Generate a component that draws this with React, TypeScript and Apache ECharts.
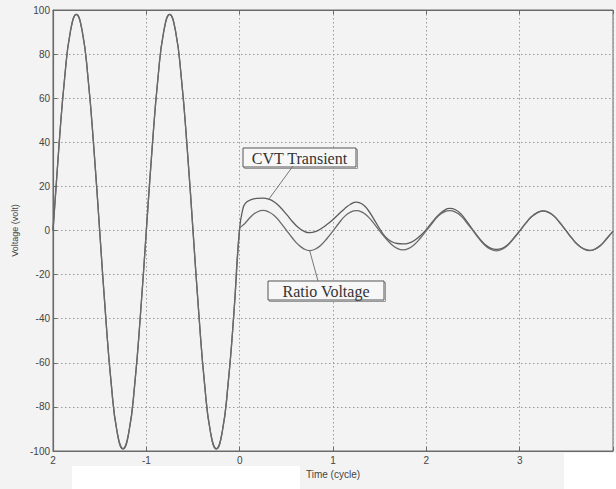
import React, { useEffect, useRef } from "react";
import * as echarts from "echarts";

// Pre-fault (both signals identical), time in cycles
const preTime = [-2, -1.9375, -1.875, -1.8125, -1.75, -1.6875, -1.625, -1.5625, -1.5, -1.4375, -1.375, -1.3125, -1.25, -1.1875, -1.125, -1.0625, -1, -0.9375, -0.875, -0.8125, -0.75, -0.6875, -0.625, -0.5625, -0.5, -0.4375, -0.375, -0.3125, -0.25, -0.1875, -0.125, -0.0625];
const preVoltage = [0, 37.5, 69.3, 90.5, 98, 90.5, 69.3, 37.5, 0, -37.9, -70, -91.5, -99, -91.5, -70, -37.9, 0, 37.5, 69.3, 90.5, 98, 90.5, 69.3, 37.5, 0, -37.9, -70, -91.5, -99, -91.5, -70, -37.9];

// Post-fault
const postTime = [0, 0.03, 0.0625, 0.125, 0.1875, 0.25, 0.3125, 0.375, 0.4375, 0.5, 0.5625, 0.625, 0.6875, 0.75, 0.8125, 0.875, 0.9375, 1, 1.0625, 1.125, 1.1875, 1.25, 1.3125, 1.375, 1.4375, 1.5, 1.5625, 1.625, 1.6875, 1.75, 1.8125, 1.875, 1.9375, 2, 2.0625, 2.125, 2.1875, 2.25, 2.3125, 2.375, 2.4375, 2.5, 2.5625, 2.625, 2.6875, 2.75, 2.8125, 2.875, 2.9375, 3, 3.0625, 3.125, 3.1875, 3.25, 3.3125, 3.375, 3.4375, 3.5, 3.5625, 3.625, 3.6875, 3.75, 3.8125, 3.875, 3.9375, 4];
const cvtTransient = [1, 9, 12.4, 14.0, 14.6, 14.7, 14.2, 12.8, 10.4, 7.4, 4.2, 1.5, -0.3, -1.0, -0.5, 0.9, 2.8, 5.0, 7.5, 9.9, 11.9, 12.9, 12.0, 9.3, 5.2, 0.8, -2.9, -5.0, -5.9, -6.1, -5.7, -4.4, -2.3, 0.5, 3.8, 6.8, 9.0, 10.0, 9.4, 7.3, 3.9, 0.2, -3.3, -6.2, -8.0, -8.6, -8.1, -6.3, -3.4, -0.2, 3.2, 6.2, 8.1, 8.9, 8.2, 6.3, 3.2, -0.2, -3.6, -6.5, -8.3, -9.0, -8.3, -6.4, -3.4, -0.3];
const ratioVoltage = [1, 2.2, 3.5, 6.5, 8.4, 9.1, 8.4, 6.6, 3.6, 0.2, -3.3, -6.3, -8.3, -9.1, -8.4, -6.5, -3.5, -0.2, 3.3, 6.4, 8.3, 9.0, 8.3, 6.3, 3.2, -0.2, -3.4, -6.2, -8.1, -8.8, -8.1, -6.2, -3.4, -0.1, 3.3, 6.4, 8.3, 9.0, 8.3, 6.4, 3.3, -0.1, -3.6, -6.6, -8.5, -9.2, -8.5, -6.6, -3.6, -0.3, 3.1, 6.1, 8.0, 8.8, 8.1, 6.2, 3.1, -0.3, -3.7, -6.6, -8.4, -9.1, -8.4, -6.5, -3.5, -0.4];

const xTickLabels = ["2", "-1", "0", "1", "2", "3", ""];
const yTicks = [-100, -80, -60, -40, -20, 0, 20, 40, 60, 80, 100];

const SANS = "'Liberation Sans', Arial, sans-serif";
const SERIF = "'Liberation Serif', 'Times New Roman', serif";

function buildSeriesData(post: number[]) {
  const d: number[][] = [];
  preTime.forEach((t, i) => d.push([t, preVoltage[i]]));
  postTime.forEach((t, i) => d.push([t, post[i]]));
  return d;
}

export default function App() {
  const ref = useRef<HTMLDivElement>(null);
  useEffect(() => {
    document.body.style.margin = "0";
    const chart = echarts.init(ref.current!, undefined, { renderer: "svg" });
    const axisColor = "#6a6a6a";
    const gridLine = { show: true, lineStyle: { color: "#9a9a9a", type: [1.5, 2.5] as any, width: 1 } };
    const option: any = {
      animation: false,
      backgroundColor: "#f3f3f3",
      grid: { left: 53, right: 1, top: 10, bottom: 38, show: true, borderColor: axisColor, borderWidth: 1, backgroundColor: "transparent" },
      xAxis: [
        {
          type: "value", min: -2, max: 4, interval: 1,
          axisLine: { show: true, onZero: false, lineStyle: { color: axisColor, width: 1.2 } },
          axisTick: { show: true, inside: true, length: 4, lineStyle: { color: axisColor } },
          axisLabel: {
            margin: 4, color: "#444", fontSize: 10, fontFamily: SANS,
            formatter: (v: number) => xTickLabels[Math.round(v + 2)] ?? "",
          },
          splitLine: gridLine,
          name: "Time (cycle)", nameLocation: "middle", nameGap: 18,
          nameTextStyle: { color: "#444", fontSize: 10, fontFamily: SANS },
        },
        {
          type: "value", min: -2, max: 4, interval: 1, position: "top",
          axisLine: { show: true, onZero: false, lineStyle: { color: axisColor } },
          axisTick: { show: true, inside: true, length: 4, lineStyle: { color: axisColor } },
          axisLabel: { show: false }, splitLine: { show: false },
        },
      ],
      yAxis: {
        type: "value", min: -100, max: 100, interval: 20,
        axisLine: { show: true, onZero: false, lineStyle: { color: axisColor, width: 1.2 } },
        axisTick: { show: true, inside: true, length: 4, lineStyle: { color: axisColor } },
        axisLabel: {
          margin: 3, color: "#444", fontSize: 10, fontFamily: SANS,
          formatter: (v: number) => (yTicks.includes(v) ? String(v) : ""),
        },
        splitLine: gridLine,
        name: "Voltage (volt)", nameLocation: "middle", nameGap: 31, nameRotate: 90,
        nameTextStyle: { color: "#444", fontSize: 9, fontFamily: SANS },
      },
      series: [
        {
          name: "CVT Transient", type: "line", data: buildSeriesData(cvtTransient),
          showSymbol: false, smooth: 0.5,
          lineStyle: { color: "#5c5c5c", width: 1.3 }, z: 3,
        },
        {
          name: "Ratio Voltage", type: "line", data: buildSeriesData(ratioVoltage),
          showSymbol: false, smooth: 0.5,
          lineStyle: { color: "#6a6a6a", width: 1.3 }, z: 3,
        },
      ],
    };
    chart.setOption(option);

    const cvtIdx = postTime.indexOf(0.3125);
    const ratioIdx = postTime.indexOf(0.75);
    const pCvt = chart.convertToPixel({ gridIndex: 0 }, [postTime[cvtIdx], cvtTransient[cvtIdx]]) as number[];
    const pRatio = chart.convertToPixel({ gridIndex: 0 }, [postTime[ratioIdx], ratioVoltage[ratioIdx]]) as number[];

    const box = (x: number, y: number, w: number, h: number, label: string) => ({
      type: "group",
      z: 10,
      children: [
        { type: "rect", shape: { x: x + 1.5, y: y + 1.5, width: w, height: h }, style: { fill: "none", stroke: "#9a9a9a", lineWidth: 1 } },
        { type: "rect", shape: { x, y, width: w, height: h }, style: { fill: "#f7f7f7", stroke: "#555", lineWidth: 1 } },
        { type: "text", x: x + w / 2, y: y + h / 2 + 1, style: { text: label, fill: "#333", font: `16px ${SERIF}`, align: "center", verticalAlign: "middle" } },
      ],
    });

    chart.setOption({
      graphic: [
        { type: "rect", z: 1, shape: { x: 72, y: 466, width: 228, height: 23 }, style: { fill: "#ffffff" } },
        { type: "rect", z: 1, shape: { x: 564, y: 453, width: 52, height: 36 }, style: { fill: "#ffffff" } },
        { type: "line", z: 9, shape: { x1: 293, y1: 166, x2: pCvt[0], y2: pCvt[1] }, style: { stroke: "#777", lineWidth: 1 } },
        { type: "line", z: 9, shape: { x1: 318, y1: 281, x2: pRatio[0], y2: pRatio[1] }, style: { stroke: "#777", lineWidth: 1 } },
        box(243, 148, 113, 19, "CVT Transient"),
        box(268, 281, 116, 19, "Ratio Voltage"),
      ],
    });
    return () => chart.dispose();
  }, []);
  return <div ref={ref} style={{ position: "fixed", left: 0, top: 0, width: 616, height: 489 }} />;
}
